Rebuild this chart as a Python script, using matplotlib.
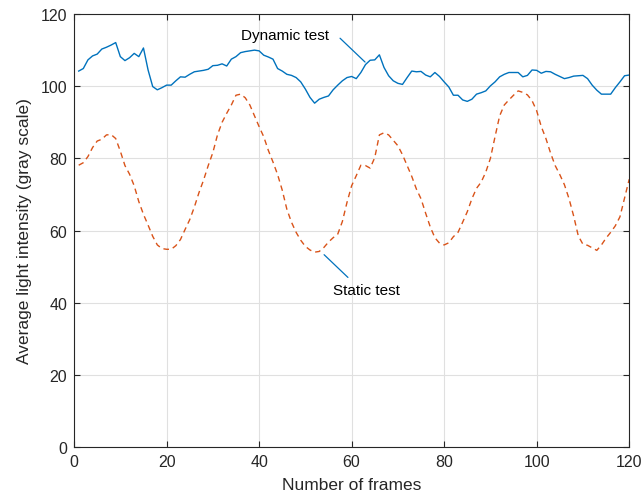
import matplotlib
matplotlib.use("Agg")
import matplotlib.pyplot as plt
import numpy as np

frames = list(range(1, 121))

dynamic_test = [
    104.2, 104.9, 107.3, 108.4, 108.9, 110.3, 110.8, 111.4, 112.1, 108.2,
    107.1, 107.9, 109.1, 108.2, 110.6, 104.5, 99.9, 99.0, 99.6, 100.3,
    100.3, 101.5, 102.6, 102.5, 103.3, 104.0, 104.2, 104.4, 104.7, 105.7,
    105.8, 106.2, 105.6, 107.5, 108.2, 109.3, 109.6, 109.8, 110.0, 109.8,
    108.6, 108.1, 107.5, 104.9, 104.2, 103.3, 103.0, 102.4, 101.2, 99.2,
    96.9, 95.3, 96.4, 96.9, 97.3, 99.0, 100.3, 101.5, 102.4, 102.7,
    102.1, 103.8, 106.0, 107.2, 107.3, 108.7, 105.2, 102.9, 101.5, 100.8,
    100.5, 102.4, 104.2, 104.0, 104.1, 103.1, 102.6, 103.8, 102.7, 101.2,
    99.8, 97.5, 97.5, 96.2, 95.8, 96.4, 97.8, 98.2, 98.7, 100.1,
    101.2, 102.6, 103.3, 103.8, 103.8, 103.8, 102.6, 103.0, 104.5, 104.4,
    103.6, 104.1, 104.0, 103.3, 102.7, 102.1, 102.4, 102.8, 102.9, 103.0,
    102.1, 100.3, 98.9, 97.8, 97.8, 97.8, 99.6, 101.2, 102.9, 103.1,
]

static_test = [
    78.1, 78.8, 80.5, 83.0, 84.8, 85.3, 86.5, 86.6, 85.5, 82.0,
    78.0, 75.6, 72.4, 68.0, 64.5, 61.5, 58.4, 56.0, 55.0, 54.8,
    54.8, 55.8, 57.5, 60.3, 63.0, 66.5, 70.5, 74.0, 78.0, 81.6,
    86.5, 90.0, 92.5, 94.8, 97.5, 97.8, 96.8, 94.8, 91.8, 88.8,
    86.0, 82.2, 79.0, 75.5, 71.2, 65.9, 62.3, 59.5, 57.3, 55.6,
    54.6, 54.0, 54.2, 55.3, 56.8, 58.0, 59.0, 62.5, 67.8, 72.4,
    75.2, 78.1, 78.0, 77.3, 80.2, 86.5, 87.1, 86.5, 85.0, 83.5,
    81.0, 78.0, 75.0, 71.5, 68.8, 64.8, 61.0, 58.0, 56.5, 56.0,
    56.6, 58.3, 59.5, 62.3, 65.2, 68.8, 71.7, 73.4, 76.2, 80.0,
    86.0, 91.8, 94.8, 96.2, 97.5, 98.7, 98.3, 97.6, 96.0, 93.2,
    88.8, 85.5, 81.5, 78.0, 75.5, 72.7, 68.8, 64.0, 58.5, 56.2,
    55.9, 55.2, 54.5, 56.0, 57.9, 59.5, 61.3, 63.8, 69.0, 74.2,
]

x_ticks = [0, 20, 40, 60, 80, 100, 120]
y_ticks = [0, 20, 40, 60, 80, 100, 120]

plt.rcParams['font.family'] = ['Liberation Sans', 'DejaVu Sans']

fig = plt.figure(figsize=(6.44, 5.02), dpi=100)
ax = fig.add_axes([0.115, 0.1076, 0.862, 0.8624])

blue = (0.0, 0.447, 0.741)
orange = (0.85, 0.325, 0.098)
dark = (0.15, 0.15, 0.15)

ax.plot(frames, dynamic_test, color=blue, lw=1.0)
ax.plot(frames, static_test, color=orange, lw=1.0, linestyle=(0, (4, 3)))

ax.set_xlim(0, 120)
ax.set_ylim(0, 120)
ax.set_xticks(x_ticks)
ax.set_yticks(y_ticks)
ax.grid(True, color=(0.88, 0.88, 0.88), lw=0.8)
ax.set_axisbelow(True)
ax.tick_params(direction='in', length=4, width=0.8, top=True, right=True,
               labelsize=11.5, colors=dark, pad=5)
for s in ax.spines.values():
    s.set_color(dark)
    s.set_linewidth(0.8)

ax.set_xlabel('Number of frames', fontsize=12.5, color=dark, labelpad=6)
ax.set_ylabel('Average light intensity (gray scale)', fontsize=12.5, color=dark, labelpad=6)

# Dynamic test annotation
ax.text(55.1, 113.2, 'Dynamic test', fontsize=11, ha='right', va='baseline', color='black')
ax.annotate('', xy=(62.9, 106.7), xytext=(57.5, 113.3),
            arrowprops=dict(arrowstyle='-', color=blue, lw=0.9, shrinkA=0, shrinkB=0))
# Static test annotation
ax.text(55.9, 42.4, 'Static test', fontsize=11, ha='left', va='baseline', color='black')
ax.annotate('', xy=(54.05, 53.3), xytext=(59.2, 47.0),
            arrowprops=dict(arrowstyle='-', color=blue, lw=0.9, shrinkA=0, shrinkB=0))

fig.savefig('out.png', dpi=100)
